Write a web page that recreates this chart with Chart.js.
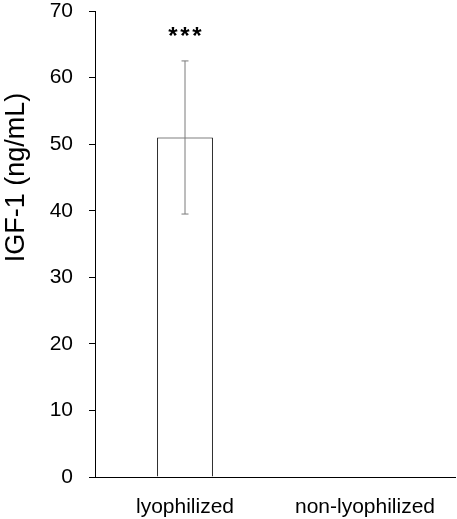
<!DOCTYPE html>
<html>
<head>
<meta charset="utf-8">
<script src="https://cdn.jsdelivr.net/npm/chart.js@4.4.1/dist/chart.umd.min.js"></script>
<style>
html,body{margin:0;padding:0;background:#fff;}
#wrap{width:457px;height:519px;position:relative;}
</style>
</head>
<body>
<div id="wrap"><canvas id="c" width="457" height="519"></canvas></div>
<script>
const categories = ["lyophilized", "non-lyophilized"];
const means = [51.0, 0];
const errLow = [39.5, null];
const errHigh = [62.5, null];
const sigLabels = ["***", ""];
const sigValues = [66.6, null];
const yTicks = [0, 10, 20, 30, 40, 50, 60, 70];
const yTitle = "IGF-1 (ng/mL)";

const FONT = "'Liberation Sans', Arial, sans-serif";

const errorBarPlugin = {
  id: 'errorBars',
  afterDatasetsDraw(chart) {
    const ctx = chart.ctx;
    const meta = chart.getDatasetMeta(0);
    const y = chart.scales.y;
    ctx.save();
    meta.data.forEach((bar, i) => {
      if (errLow[i] == null) return;
      const x = bar.x;
      const yl = y.getPixelForValue(errLow[i]);
      const yh = y.getPixelForValue(errHigh[i]);
      ctx.strokeStyle = '#7a7a7a';
      ctx.lineWidth = 1;
      ctx.beginPath();
      ctx.moveTo(x, yl); ctx.lineTo(x, yh);
      ctx.moveTo(x - 3.5, yl); ctx.lineTo(x + 3.5, yl);
      ctx.moveTo(x - 3.5, yh); ctx.lineTo(x + 3.5, yh);
      ctx.stroke();
    });
    meta.data.forEach((bar, i) => {
      if (!sigLabels[i]) return;
      ctx.fillStyle = '#000';
      ctx.font = "bold 24px " + FONT;
      ctx.textAlign = 'center';
      ctx.textBaseline = 'middle';
      const chars = sigLabels[i].split('');
      const step = 12;
      const yy = y.getPixelForValue(sigValues[i]) + 4;
      chars.forEach((ch, k) => {
        ctx.fillText(ch, bar.x + (k - (chars.length - 1) / 2) * step, yy);
      });
    });
    // rotated y-axis title, placed in the upper part of the axis as in the original
    ctx.fillStyle = '#000';
    ctx.font = "27px " + FONT;
    ctx.textAlign = 'center';
    ctx.textBaseline = 'middle';
    ctx.translate(17, y.getPixelForValue(45));
    ctx.rotate(-Math.PI / 2);
    ctx.fillText(yTitle, 0, 0);
    ctx.restore();
  }
};

new Chart(document.getElementById('c'), {
  type: 'bar',
  data: {
    labels: categories,
    datasets: [{
      data: means,
      backgroundColor: '#ffffff',
      borderColor: '#000000',
      borderWidth: 1,
      barPercentage: 0.31,
      categoryPercentage: 1.0
    }]
  },
  options: {
    responsive: false,
    animation: false,
    layout: { padding: { top: 11, right: 2, left: 0, bottom: 0 } },
    plugins: { legend: { display: false }, tooltip: { enabled: false } },
    scales: {
      x: {
        grid: { display: false, drawTicks: false },
        border: { display: true, color: '#000', width: 1 },
        ticks: { color: '#000', font: { family: FONT, size: 21 }, padding: 18 },
        afterFit(scale) { scale.height = 42; scale.paddingLeft = 0; scale.paddingRight = 0; }
      },
      y: {
        min: 0, max: 70,
        afterBuildTicks(scale) { scale.ticks = yTicks.map(v => ({ value: v })); },
        grid: { display: true, drawOnChartArea: false, drawTicks: true, tickLength: 6, color: '#000' },
        border: { display: true, color: '#000', width: 1 },
        ticks: { color: '#000', font: { family: FONT, size: 21 }, padding: 16 },
        title: { display: false },
        afterFit(scale) { scale.width = 95; scale.paddingTop = 0; scale.paddingBottom = 0; }
      }
    }
  },
  plugins: [errorBarPlugin]
});
</script>
</body>
</html>
